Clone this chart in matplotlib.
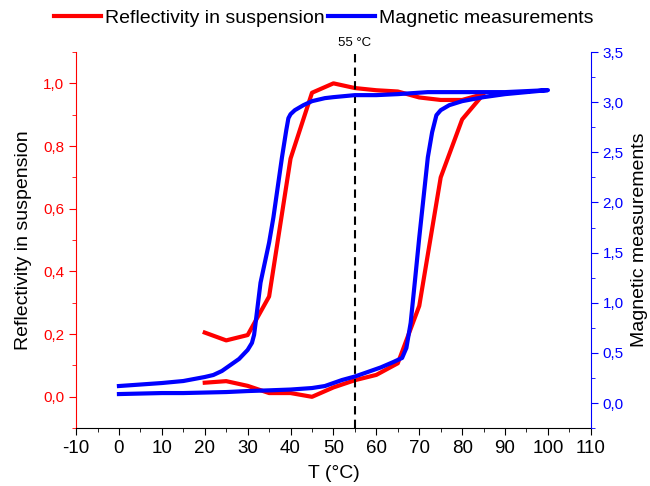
import matplotlib.pyplot as plt
from matplotlib.ticker import MultipleLocator, FuncFormatter

plt.rcParams['font.family'] = ['Liberation Sans', 'DejaVu Sans']
plt.rcParams['axes.unicode_minus'] = False

# reflectivity in suspension (left axis), heating branch then cooling branch
t_refl_heat = [20, 25, 30, 35, 40, 45, 50, 55, 60, 65, 70, 75, 80, 85]
refl_heat = [0.045, 0.05, 0.035, 0.012, 0.012, 0.0, 0.03, 0.053, 0.07, 0.107, 0.29, 0.70, 0.885, 0.966]
t_refl_cool = [85, 80, 75, 70, 65, 60, 55, 50, 45, 40, 35, 30, 25, 20]
refl_cool = [0.966, 0.947, 0.947, 0.955, 0.974, 0.978, 0.985, 1.0, 0.97, 0.76, 0.32, 0.197, 0.18, 0.205]

# magnetic measurements (right axis), heating branch then cooling branch
t_mag_heat = [0, 5, 10, 15, 20, 25, 30, 35, 40, 45, 48, 50, 52, 55, 58, 61, 64, 66, 67, 68, 69,
              70, 71, 72, 73, 74, 75, 77, 80, 85, 90, 95, 100]
mag_heat = [0.09, 0.095, 0.10, 0.10, 0.105, 0.11, 0.12, 0.127, 0.135, 0.15, 0.17, 0.20, 0.23, 0.265,
            0.31, 0.355, 0.41, 0.45, 0.55, 0.80, 1.22, 1.65, 2.05, 2.45, 2.70, 2.87, 2.92, 2.97, 3.01,
            3.05, 3.08, 3.10, 3.12]
t_mag_cool = [100, 95, 90, 85, 80, 72, 65, 60, 55, 50, 48, 45, 43, 41, 40, 39.5, 39, 38, 37, 36,
              35, 34, 33, 32, 31.5, 31, 30, 28, 26, 24, 22, 20, 15, 10, 5, 0]
mag_cool = [3.12, 3.11, 3.10, 3.10, 3.10, 3.10, 3.08, 3.07, 3.07, 3.05, 3.04, 3.01, 2.97, 2.92, 2.88,
            2.84, 2.72, 2.45, 2.15, 1.85, 1.60, 1.40, 1.20, 0.85, 0.68, 0.60, 0.53, 0.44, 0.38, 0.32,
            0.28, 0.26, 0.22, 0.20, 0.185, 0.17]

comma = FuncFormatter(lambda v, p: ('%.1f' % v).replace('.', ','))

fig = plt.figure(figsize=(6.5, 4.86), dpi=100)
ax = fig.add_axes([0.117, 0.119, 0.792, 0.774])
ax2 = ax.twinx()

l1, = ax.plot(t_refl_heat + t_refl_cool, refl_heat + refl_cool, color='#ff0000', lw=3,
              solid_joinstyle='round')
l2, = ax2.plot(t_mag_heat + t_mag_cool, mag_heat + mag_cool, color='#0000ff', lw=3,
               solid_joinstyle='round')
ax.axvline(55, color='black', lw=1.5, dashes=(4, 2.5))
ax.text(55, 1.11, '55 °C', ha='center', va='bottom', fontsize=9.5)

ax.set_xlim(-10, 110)
ax.set_ylim(-0.1, 1.1)
ax2.set_ylim(-0.25, 3.5)
ax.xaxis.set_major_locator(MultipleLocator(10))
ax.xaxis.set_minor_locator(MultipleLocator(5))
ax.yaxis.set_major_locator(MultipleLocator(0.2))
ax.yaxis.set_minor_locator(MultipleLocator(0.1))
ax2.yaxis.set_major_locator(MultipleLocator(0.5))
ax2.yaxis.set_minor_locator(MultipleLocator(0.25))
ax.yaxis.set_major_formatter(comma)
ax2.yaxis.set_major_formatter(comma)

for a in (ax, ax2):
    a.spines['top'].set_visible(False)
ax.spines['right'].set_visible(False)
ax2.spines['left'].set_visible(False)
ax2.spines['bottom'].set_visible(False)
ax.spines['left'].set_color('#ff0000')
ax2.spines['right'].set_color('#0000ff')

ax.tick_params(axis='x', which='major', length=5, labelsize=13.5)
ax.tick_params(axis='x', which='minor', length=3)
ax.tick_params(axis='y', which='both', colors='#ff0000', labelsize=11)
ax.tick_params(axis='y', which='major', length=5)
ax.tick_params(axis='y', which='minor', length=3)
ax2.tick_params(axis='y', which='both', colors='#0000ff', labelsize=11)
ax2.tick_params(axis='y', which='major', length=5)
ax2.tick_params(axis='y', which='minor', length=3)

ax.set_xlabel('T (°C)', fontsize=14, labelpad=6)
ax.set_ylabel('Reflectivity in suspension', fontsize=14, labelpad=8)
ax2.set_ylabel('Magnetic measurements', fontsize=14, labelpad=5)

fig.legend(handles=[l1, l2], labels=['Reflectivity in suspension', 'Magnetic measurements'],
           loc='center', bbox_to_anchor=(0.498, 0.963), ncol=2, frameon=False, fontsize=14,
           handlelength=2.4, handletextpad=0.2, columnspacing=0.2)

fig.savefig('out.png', dpi=100)
